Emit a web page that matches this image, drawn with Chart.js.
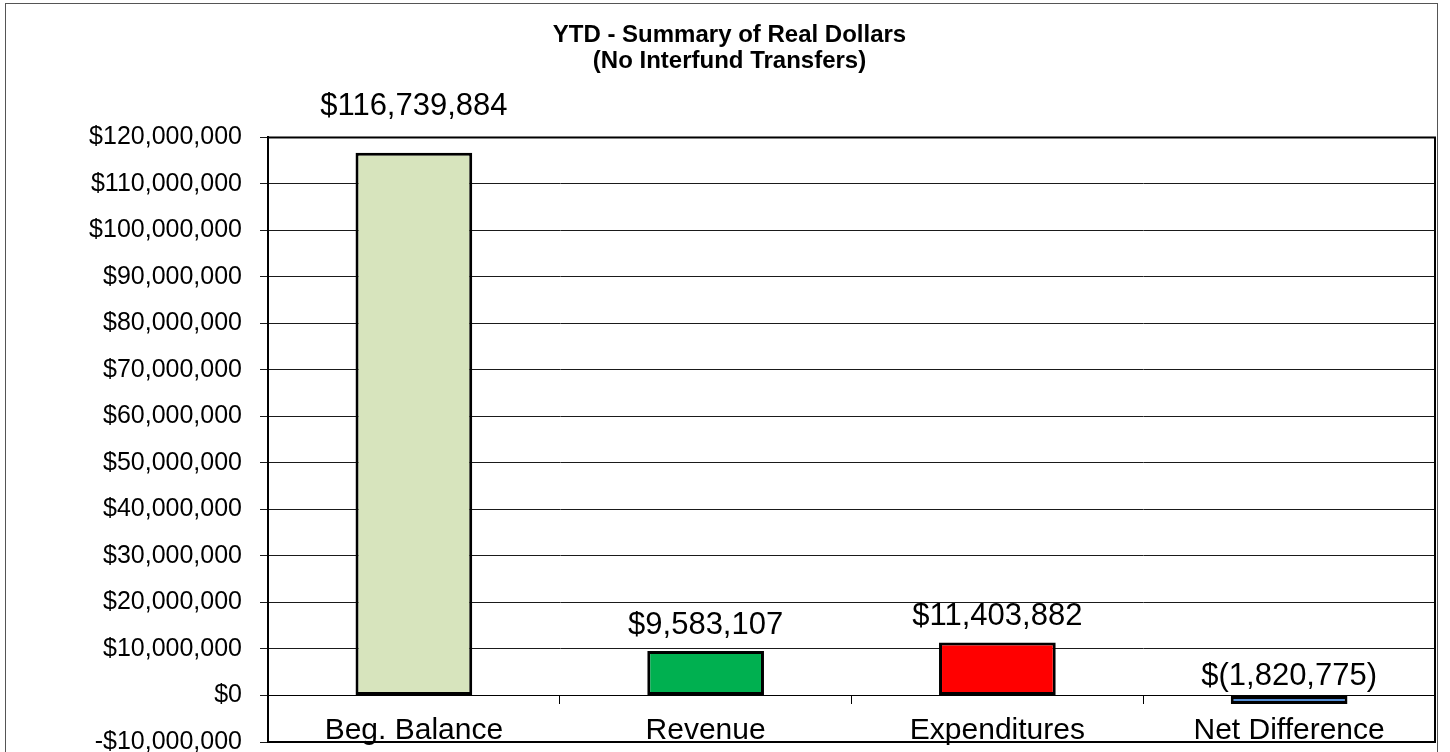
<!DOCTYPE html>
<html>
<head>
<meta charset="utf-8">
<script src="https://cdn.jsdelivr.net/npm/chart.js@4/dist/chart.umd.min.js"></script>
<style>
  html, body { margin: 0; padding: 0; background: #fff; overflow: hidden; }
  #frame {
    position: absolute; left: 5px; top: 3px;
    width: 1431px; height: 800px;
    border: 1px solid #555;
  }
  #chart { position: absolute; left: 0; top: 0; }
</style>
</head>
<body>
<div id="frame"></div>
<canvas id="chart" width="1450" height="752"></canvas>
<script>
// YTD summary bar chart (Excel style)

const categories = ['Beg. Balance', 'Revenue', 'Expenditures', 'Net Difference'];
const amounts = [116739884, 9583107, 11403882, -1820775];
const barColors = ['#D7E4BD', '#00B050', '#FF0000', '#558ED5'];
const titleLines = ['YTD - Summary of Real Dollars', '(No Interfund Transfers)'];

const yMin = -10000000;
const yMax = 120000000;
const yStep = 10000000;

const FONT = "'Liberation Sans', Arial, sans-serif";

function money(v) {
    const s = Math.abs(Math.round(v)).toLocaleString('en-US');
    return v < 0 ? '-$' + s : '$' + s;
}

function labelMoney(v) {
    const s = Math.abs(Math.round(v)).toLocaleString('en-US');
    return v < 0 ? '$(' + s + ')' : '$' + s;
}

// black frame round the plot area
const plotFrame = {
    id: 'plotFrame',
    afterDraw(chart) {
        const { ctx, chartArea: a } = chart;
        ctx.save();
        ctx.strokeStyle = '#000';
        ctx.lineWidth = 2;
        ctx.strokeRect(a.left, a.top, a.right - a.left, a.bottom - a.top);
        ctx.restore();
    }
};

// value labels above each bar
const valueLabels = {
    id: 'valueLabels',
    afterDatasetsDraw(chart) {
        const { ctx, chartArea } = chart;
        const meta = chart.getDatasetMeta(0);
        ctx.save();
        ctx.font = '31px ' + FONT;
        ctx.fillStyle = '#000';
        ctx.textAlign = 'center';
        ctx.textBaseline = 'alphabetic';
        meta.data.forEach((bar, i) => {
            const v = amounts[i];
            let y;
            if (v >= 0) {
                y = bar.y - 17;
                // keep the label clear of the plot frame
                if (y - 22 < chartArea.top) y = chartArea.top - 22;
            } else {
                y = bar.base - 11;
            }
            ctx.fillText(labelMoney(v), bar.x, y);
        });
        ctx.restore();
    }
};

new Chart(document.getElementById('chart'), {
    type: 'bar',
    data: {
        labels: categories,
        datasets: [{
            data: amounts,
            backgroundColor: barColors,
            borderColor: '#000',
            borderWidth: 3,
            borderSkipped: false,
            barPercentage: 0.4,
            categoryPercentage: 1.0
        }]
    },
    options: {
        responsive: false,
        animation: false,
        layout: {
            padding: { left: 24, right: 15, top: 0, bottom: 10 }
        },
        plugins: {
            legend: { display: false },
            tooltip: { enabled: false },
            title: {
                display: true,
                text: titleLines,
                color: '#000',
                font: { family: FONT, size: 24, weight: 'bold', lineHeight: 1.083 },
                padding: { top: 22, bottom: 63.5 }
            }
        },
        scales: {
            x: {
                type: 'category',
                position: { y: 0 },
                afterFit(scale) { scale.height = 0; },
                grid: {
                    drawOnChartArea: false,
                    drawTicks: true,
                    tickLength: 8,
                    color: '#000',
                    offset: true
                },
                border: { display: true, color: '#000', width: 1 },
                ticks: {
                    color: '#000',
                    padding: 12,
                    maxRotation: 0,
                    font: { family: FONT, size: 30, lineHeight: 1 }
                }
            },
            y: {
                min: yMin,
                max: yMax,
                afterFit(scale) {
                    scale.width = 244;
                    scale.paddingTop = 0;
                    scale.paddingBottom = 0;
                },
                grid: {
                    color: '#1a1a1a',
                    lineWidth: 1,
                    drawTicks: true,
                    tickLength: 8
                },
                border: { display: true, color: '#000', width: 2 },
                ticks: {
                    stepSize: yStep,
                    color: '#000',
                    padding: 18,
                    font: { family: FONT, size: 25 },
                    callback: (v) => money(v)
                }
            }
        }
    },
    plugins: [plotFrame, valueLabels]
});
</script>
</body>
</html>
